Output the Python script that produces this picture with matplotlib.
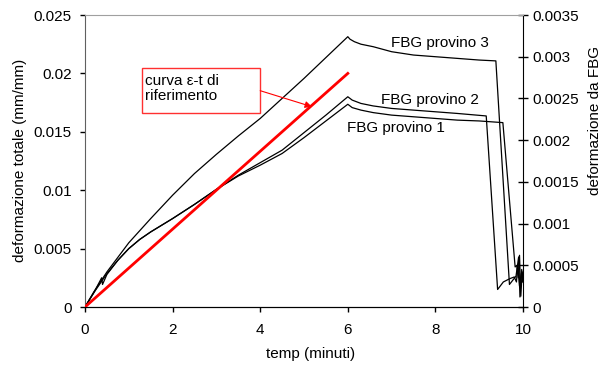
import matplotlib.pyplot as plt
from matplotlib.patches import Rectangle
from matplotlib.ticker import MultipleLocator, FuncFormatter

plt.rcParams['font.family'] = ['Liberation Sans', 'DejaVu Sans']
plt.rcParams['font.size'] = 11

# curva di riferimento (asse sinistro)
rif_t = [0, 6]
rif_eps = [0, 0.02]

# FBG provino 3 (asse destro)
p3_t = [0, 0.2, 0.5, 1.0, 1.5, 2.0, 2.5, 3.0, 3.5, 4.0, 4.5, 5.0, 5.5, 6.0,
        6.05, 6.15, 6.3, 6.58, 7.0, 7.5, 8.0, 8.5, 9.0, 9.38,
        9.69, 9.78, 9.84, 9.90, 9.93, 9.97, 10.0]
p3_eps = [0, 0.00018, 0.00042, 0.00077, 0.00106, 0.00134, 0.00160, 0.00183, 0.00205,
          0.00226, 0.00250, 0.00274, 0.00299, 0.00324,
          0.00321, 0.00318, 0.00315, 0.00312, 0.00306, 0.00302, 0.00300, 0.00298,
          0.00296, 0.00295,
          0.00027, 0.00033, 0.00037, 0.00060, 0.00012, 0.00045, 0.00035]

# FBG provino 2
p2_t = [0, 0.2, 0.5, 0.75, 1.0, 1.25, 1.5, 2.0, 2.5, 3.0, 3.5, 4.0, 4.5, 5.0, 5.5, 6.0,
        6.1, 6.3, 6.58, 7.0, 7.5, 8.0, 8.5, 9.16,
        9.42, 9.55, 9.70, 9.80, 9.85, 9.88, 9.92, 9.96, 10.0]
p2_eps = [0, 0.00017, 0.00040, 0.00056, 0.00070, 0.00081, 0.00090, 0.00106, 0.00123,
          0.00141, 0.00158, 0.00173, 0.00188, 0.00209, 0.00230, 0.00252,
          0.00248, 0.00244, 0.00241, 0.00238, 0.00236, 0.00234, 0.00232, 0.00229,
          0.00021, 0.00030, 0.00034, 0.00036, 0.00030, 0.00050, 0.00025, 0.00040, 0.00030]

# FBG provino 1
p1_t = [0, 0.2, 0.38, 0.40, 0.5, 0.75, 1.0, 1.25, 1.5, 2.0, 2.5, 3.0, 3.5, 4.0, 4.5,
        5.0, 5.5, 6.0, 6.1, 6.3, 6.58, 7.0, 7.5, 8.0, 8.5, 9.0, 9.54,
        9.82, 9.86, 9.89, 9.92, 9.95, 9.98, 10.0]
p1_eps = [0, 0.00017, 0.00035, 0.00027, 0.00039, 0.00056, 0.00070, 0.00081, 0.00090,
          0.00106, 0.00123, 0.00141, 0.00157, 0.00170, 0.00184, 0.00203, 0.00223,
          0.00243, 0.00239, 0.00236, 0.00233, 0.00230, 0.00228, 0.00226, 0.00224,
          0.00223, 0.00221,
          0.00048, 0.00050, 0.00035, 0.00062, 0.00013, 0.00042, 0.00030]

fig = plt.figure(figsize=(6.02, 3.65), dpi=100)
ax = fig.add_axes([0.1412, 0.1589, 0.7276, 0.8])
ax2 = ax.twinx()

ax.plot(rif_t, rif_eps, color='#ff0000', lw=2, zorder=3)
ax2.plot(p3_t, p3_eps, color='black', lw=0.9)
ax2.plot(p2_t, p2_eps, color='black', lw=0.9)
ax2.plot(p1_t, p1_eps, color='black', lw=0.9)

ax.set_zorder(ax2.get_zorder() + 1)
ax.patch.set_visible(False)

ax.set_xlim(0, 10)
ax.set_ylim(0, 0.025)
ax2.set_ylim(0, 0.0035)
ax.xaxis.set_major_locator(MultipleLocator(2))
ax.yaxis.set_major_locator(MultipleLocator(0.005))
ax2.yaxis.set_major_locator(MultipleLocator(0.0005))
fmt = FuncFormatter(lambda v, p: '0' if abs(v) < 1e-12 else '%g' % v)
ax.yaxis.set_major_formatter(fmt)
ax2.yaxis.set_major_formatter(fmt)
ax.xaxis.set_major_formatter(FuncFormatter(lambda v, p: '%g' % v))

for a in (ax, ax2):
    a.spines['top'].set_color('#a0a0a0')
ax.spines['left'].set_color('#606060')
ax.spines['right'].set_visible(False)
ax2.spines['left'].set_visible(False)
ax2.spines['top'].set_visible(False)
ax.tick_params(axis='y', direction='out', length=3.6, width=1, labelsize=11, pad=6)
ax.tick_params(axis='x', direction='out', length=3.6, width=1, labelsize=11, pad=8)
ax2.tick_params(axis='y', direction='inout', length=7, width=1, labelsize=11, pad=3)

ax.set_xlabel('temp (minuti)', fontsize=11)
ax.xaxis.set_label_coords(0.516, -0.137)
ax.set_ylabel('deformazione totale (mm/mm)', fontsize=11)
ax.yaxis.set_label_coords(-0.132, 0.503)
ax2.set_ylabel('deformazione da FBG', fontsize=11)
ax2.yaxis.set_label_coords(1.149, 0.64)

ax2.text(6.99, 0.003164, 'FBG provino 3', va='center', ha='left', fontsize=11)
ax2.text(6.76, 0.002481, 'FBG provino 2', va='center', ha='left', fontsize=11)
ax2.text(5.98, 0.002146, 'FBG provino 1', va='center', ha='left', fontsize=11)

# riquadro con freccia
ax.add_patch(Rectangle((1.30, 0.01661), 2.70, 0.00385, fc='white', ec='#ff3030',
                       lw=1, zorder=4))
ax.text(1.37, 0.01871, 'curva \u03b5-t di\nriferimento', ha='left', va='center',
        fontsize=11, linespacing=1.1, zorder=5)
ax.annotate('', xy=(5.18, 0.01715), xytext=(4.0, 0.01852),
            arrowprops=dict(arrowstyle='-|>', color='#ff0000', lw=0.8,
                            mutation_scale=10, shrinkA=0, shrinkB=0), zorder=5)

fig.savefig('out.png', dpi=100)
